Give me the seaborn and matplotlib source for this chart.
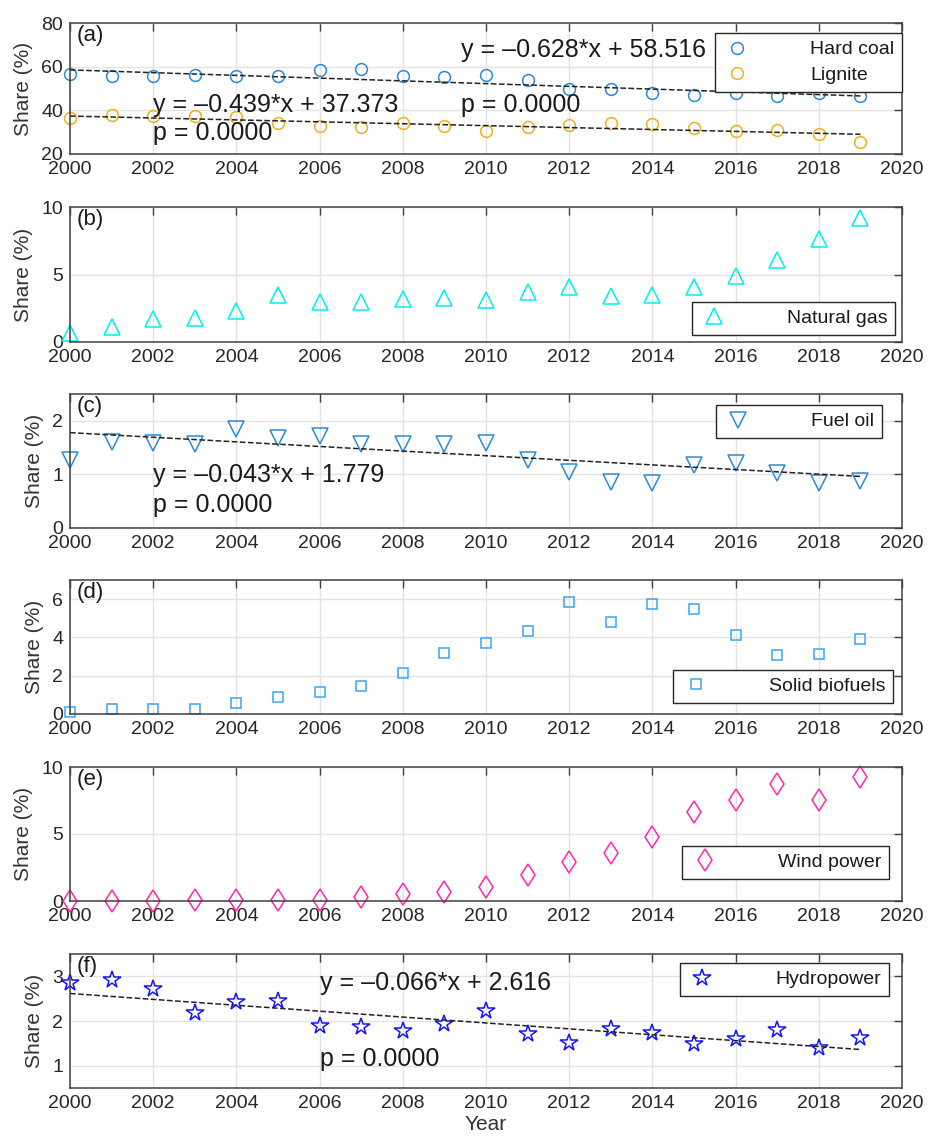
import numpy as np
import pandas as pd
import seaborn as sns
import matplotlib
matplotlib.use('Agg')
from matplotlib import pyplot as plt

# Data
years = np.arange(2000, 2020)
hard_coal = [56.8, 55.7, 55.7, 56.2, 55.7, 55.7, 58.5, 59.1, 55.7, 55.3,
             56.2, 53.9, 49.9, 49.9, 47.8, 47.2, 47.8, 46.6, 47.9, 46.7]
lignite = [36.6, 37.7, 37.3, 37.3, 36.9, 34.4, 32.7, 32.2, 34.4, 33.0,
           30.7, 32.2, 33.4, 34.4, 33.7, 31.9, 30.7, 31.0, 29.2, 25.6]
natural_gas = [0.7, 1.09, 1.7, 1.75, 2.27, 3.46, 2.99, 2.96, 3.15, 3.28,
               3.14, 3.72, 4.05, 3.38, 3.5, 4.07, 4.86, 6.1, 7.6, 9.2]
fuel_oil = [1.27, 1.6, 1.58, 1.56, 1.85, 1.68, 1.72, 1.57, 1.57, 1.56,
            1.59, 1.27, 1.05, 0.86, 0.84, 1.17, 1.22, 1.02, 0.84, 0.88]
solid_biofuels = [0.12, 0.26, 0.24, 0.24, 0.6, 0.91, 1.15, 1.47, 2.13, 3.21,
                  3.73, 4.35, 5.86, 4.78, 5.76, 5.48, 4.14, 3.09, 3.12, 3.91]
wind_power = [0.0, 0.0, 0.0, 0.05, 0.05, 0.05, 0.1, 0.3, 0.55, 0.67,
              1.04, 1.92, 2.91, 3.6, 4.78, 6.62, 7.56, 8.76, 7.51, 9.25]
hydropower = [2.84, 2.91, 2.72, 2.18, 2.43, 2.45, 1.88, 1.86, 1.78, 1.93,
              2.22, 1.70, 1.51, 1.83, 1.74, 1.49, 1.60, 1.79, 1.40, 1.63]

# linear trends as printed in the figure (x = year - 2000)
trend_coal = (-0.628, 58.516)
trend_lignite = (-0.439, 37.373)
trend_oil = (-0.043, 1.779)
trend_hydro = (-0.066, 2.616)

df = pd.DataFrame({'Year': years, 'Hard coal': hard_coal, 'Lignite': lignite,
                   'Natural gas': natural_gas, 'Fuel oil': fuel_oil,
                   'Solid biofuels': solid_biofuels, 'Wind power': wind_power,
                   'Hydropower': hydropower})

sns.set_style('white')
plt.rcParams['font.family'] = ['Liberation Sans', 'DejaVu Sans']
plt.rcParams['axes.edgecolor'] = '#404040'
plt.rcParams['text.color'] = '#1a1a1a'
plt.rcParams['xtick.color'] = '#404040'
plt.rcParams['ytick.color'] = '#404040'
plt.rcParams['xtick.labelcolor'] = '#262626'
plt.rcParams['ytick.labelcolor'] = '#262626'

fig = plt.figure(figsize=(9.32, 11.4), dpi=100)
W, H = 932, 1140
L, R = 70, 902
panels_px = [(23, 154), (207, 342), (394, 528), (580, 714), (767, 901), (954, 1088)]
axes = []
for top, bot in panels_px:
    axes.append(fig.add_axes([L / W, 1 - bot / H, (R - L) / W, (bot - top) / H]))


def style(ax, ylim, yticks, letter):
    ax.set_xlim(2000, 2020)
    ax.set_xticks(range(2000, 2021, 2))
    ax.set_ylim(*ylim)
    ax.set_yticks(yticks)
    ax.grid(True, color='#e3e3e3', lw=1)
    ax.set_axisbelow(True)
    ax.tick_params(direction='in', length=6, width=1, top=True, right=True,
                   labelsize=14, pad=5)
    for s in ax.spines.values():
        s.set_linewidth(1.1)
    ax.set_xlabel('')
    ax.set_ylabel('Share (%)', fontsize=15, color='#333333', labelpad=6)
    ax.text(0.008, 0.985, letter, transform=ax.transAxes, fontsize=16,
            va='top', ha='left')


def points(ax, col, marker, color, ms):
    sns.lineplot(data=df, x='Year', y=col, ax=ax, marker=marker, linestyle='',
                 mfc='none', mec=color, mew=1.1, ms=ms, label=col, clip_on=False)


def trend(ax, coef):
    yv = coef[0] * (years - 2000) + coef[1]
    sns.lineplot(x=years, y=yv, ax=ax, color='#222222', ls='--', lw=1.1,
                 dashes=(4, 2.5), label='_nolegend_')


def legend(ax, loc, anchor):
    leg = ax.legend(loc=loc, bbox_to_anchor=anchor, borderaxespad=0,
                    fancybox=False, edgecolor='#262626', framealpha=1,
                    fontsize=14, handlelength=1.5, handletextpad=3.0,
                    borderpad=0.4, labelspacing=0.4)
    leg.get_frame().set_linewidth(1.0)


# (a)
ax = axes[0]
points(ax, 'Hard coal', 'o', '#2b8ad6', 8.5)
points(ax, 'Lignite', 'o', '#edb120', 8.5)
trend(ax, trend_coal)
trend(ax, trend_lignite)
style(ax, (20, 80), [20, 40, 60, 80], '(a)')
ax.text(2009.4, 67.6, 'y = –0.628*x + 58.516', fontsize=18, va='center')
ax.text(2009.4, 42.4, 'p = 0.0000', fontsize=18, va='center')
ax.text(2002.0, 42.4, 'y = –0.439*x + 37.373', fontsize=18, va='center')
ax.text(2002.0, 29.6, 'p = 0.0000', fontsize=18, va='center')
legend(ax, 'upper right', (1.0, 0.924))

# (b)
ax = axes[1]
points(ax, 'Natural gas', '^', '#00f0f0', 12)
style(ax, (0, 10), [0, 5, 10], '(b)')
legend(ax, 'lower right', (0.992, 0.052))

# (c)
ax = axes[2]
points(ax, 'Fuel oil', 'v', '#2b8ad6', 12)
trend(ax, trend_oil)
style(ax, (0, 2.5), [0, 1, 2], '(c)')
ax.text(2002.0, 0.98, 'y = –0.043*x + 1.779', fontsize=18, va='center')
ax.text(2002.0, 0.43, 'p = 0.0000', fontsize=18, va='center')
legend(ax, 'upper right', (0.976, 0.918))

# (d)
ax = axes[3]
points(ax, 'Solid biofuels', 's', '#3aa6f2', 7)
style(ax, (0, 7), [0, 2, 4, 6], '(d)')
legend(ax, 'lower right', (0.989, 0.082))

# (e)
ax = axes[4]
points(ax, 'Wind power', 'd', '#ff2aa8', 11.5)
style(ax, (0, 10), [0, 5, 10], '(e)')
legend(ax, 'lower right', (0.984, 0.164))

# (f)
ax = axes[5]
points(ax, 'Hydropower', '*', '#1414ff', 13)
trend(ax, trend_hydro)
style(ax, (0.5, 3.5), [1, 2, 3], '(f)')
ax.text(2006.0, 2.84, 'y = –0.066*x + 2.616', fontsize=18, va='center')
ax.text(2006.0, 1.16, 'p = 0.0000', fontsize=18, va='center')
legend(ax, 'upper right', (0.984, 0.933))
ax.set_xlabel('Year', fontsize=15, color='#333333', labelpad=2)

fig.savefig('out.png', dpi=100)
